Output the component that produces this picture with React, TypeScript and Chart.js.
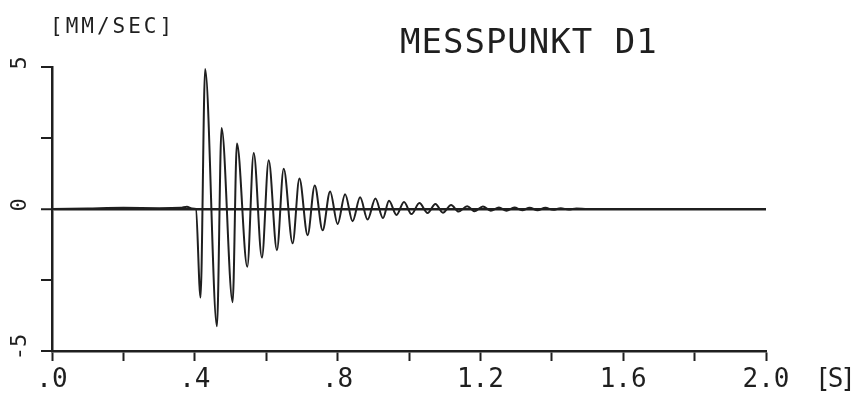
import React, { useEffect, useRef } from "react";
import { Chart, registerables } from "chart.js";

Chart.register(...registerables);

// ---- data ----
const timeS = [
  0, 0.1, 0.2, 0.3, 0.36, 0.378, 0.392, 0.403,
  0.416, 0.429, 0.462, 0.475, 0.506, 0.518, 0.547, 0.565,
  0.588, 0.607, 0.63, 0.649, 0.674, 0.693, 0.716, 0.736,
  0.758, 0.779, 0.8, 0.821, 0.842, 0.863, 0.884, 0.906,
  0.927, 0.944, 0.965, 0.986, 1.007, 1.029, 1.052, 1.074,
  1.095, 1.118, 1.139, 1.163, 1.184, 1.207, 1.229, 1.252,
  1.273, 1.295, 1.317, 1.338, 1.36, 1.382, 1.404, 1.425,
  1.447, 1.469, 1.5, 1.6, 1.8, 2.0,
];
const velocity = [
  0, 0.02, 0.04, 0.03, 0.04, 0.08, 0.02, 0,
  -3.12, 4.93, -4.13, 2.85, -3.28, 2.31, -2.03, 1.97,
  -1.71, 1.72, -1.45, 1.42, -1.21, 1.07, -0.92, 0.83,
  -0.75, 0.62, -0.53, 0.52, -0.43, 0.41, -0.37, 0.37,
  -0.32, 0.29, -0.21, 0.25, -0.18, 0.21, -0.14, 0.18,
  -0.13, 0.14, -0.09, 0.1, -0.08, 0.09, -0.06, 0.05,
  -0.06, 0.05, -0.04, 0.04, -0.04, 0.04, -0.03, 0.03,
  -0.02, 0.02, 0, 0, 0, 0,
];
const xTickLabels = [".0", "", ".4", "", ".8", "", "1.2", "", "1.6", "", "2.0"];
const yLabelValues = [5, 0, -5];
const yLabelTexts = ["5", "0", "-5"];
const titleText = "MESSPUNKT D1";
const yUnitText = "[MM/SEC]";
const xUnitText = "[S]";

const INK = "#1f1f1f";
const FONT = "'DejaVu Sans Mono', monospace";

const textPlugin = {
  id: "plotterText",
  afterDraw(chart: any) {
    const ctx = chart.ctx as CanvasRenderingContext2D;
    const xs = chart.scales.x;
    const ys = chart.scales.y;
    ctx.save();
    ctx.fillStyle = INK;
    // unit label of y
    ctx.font = `21px ${FONT}`;
    (ctx as any).letterSpacing = "3px";
    ctx.textAlign = "left";
    ctx.textBaseline = "alphabetic";
    ctx.fillText(yUnitText, 50, 33);
    // title
    ctx.font = `34px ${FONT}`;
    (ctx as any).letterSpacing = "1px";
    ctx.fillText(titleText, 400, 53);
    // x unit
    ctx.font = `26px ${FONT}`;
    (ctx as any).letterSpacing = "-3px";
    ctx.textBaseline = "middle";
    ctx.fillText(xUnitText, 815, xs.top + 10 + 4 + 15.6);
    // rotated y labels
    (ctx as any).letterSpacing = "0px";
    ctx.font = `22px ${FONT}`;
    ctx.textAlign = "center";
    ctx.textBaseline = "middle";
    yLabelValues.forEach((v, i) => {
      const py = ys.getPixelForValue(v) - 4;
      ctx.save();
      ctx.translate(20, py);
      ctx.rotate(-Math.PI / 2);
      ctx.fillText(yLabelTexts[i], 0, 0);
      ctx.restore();
    });
    ctx.restore();
  },
};

export default function App() {
  const ref = useRef<HTMLCanvasElement | null>(null);

  useEffect(() => {
    document.body.style.margin = "0";
    const canvas = ref.current!;
    const points = timeS.map((t, i) => ({ x: t, y: velocity[i] }));
    const chart = new Chart(canvas, {
      type: "line",
      data: {
        datasets: [
          {
            data: points,
            borderColor: INK,
            borderWidth: 2,
            pointRadius: 0,
            cubicInterpolationMode: "monotone",
            fill: false,
          },
        ],
      },
      options: {
        animation: false,
        responsive: false,
        devicePixelRatio: 1,
        layout: { padding: { left: 41, right: 92, top: 67, bottom: 2 } },
        plugins: {
          legend: { display: false },
          tooltip: { enabled: false },
          title: { display: false },
        },
        scales: {
          x: {
            type: "linear",
            min: 0,
            max: 2.0,
            afterFit: (s: any) => {
              s.height = 46;
            },
            border: { display: true, color: INK, width: 2.5 },
            grid: {
              drawOnChartArea: false,
              drawTicks: true,
              tickLength: 10,
              tickWidth: 2,
              tickColor: INK,
            },
            ticks: {
              stepSize: 0.2,
              autoSkip: false,
              maxRotation: 0,
              minRotation: 0,
              padding: 4,
              color: INK,
              font: { family: "DejaVu Sans Mono", size: 26 },
              callback: (_v: any, index: number) => xTickLabels[index] ?? "",
            },
          },
          y: {
            type: "linear",
            min: -5,
            max: 5,
            border: { display: true, color: INK, width: 2.5 },
            grid: {
              drawOnChartArea: true,
              drawTicks: true,
              tickLength: 11,
              tickWidth: 2,
              tickColor: INK,
              color: (c: any) => (c.tick && c.tick.value === 0 ? INK : "rgba(0,0,0,0)"),
              lineWidth: (c: any) => (c.tick && c.tick.value === 0 ? 2.5 : 0),
            },
            ticks: { stepSize: 2.5, display: false },
          },
        },
      },
      plugins: [textPlugin],
    });
    return () => chart.destroy();
  }, []);

  return (
    <canvas
      ref={ref}
      width={858}
      height={399}
      style={{ display: "block", width: "858px", height: "399px", background: "#fff" }}
    />
  );
}
